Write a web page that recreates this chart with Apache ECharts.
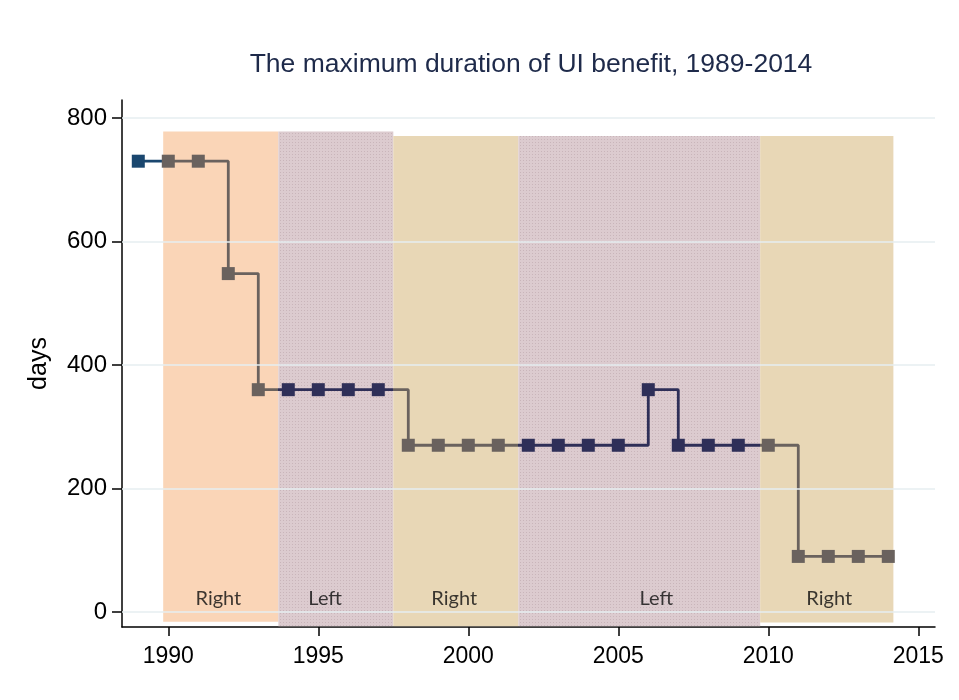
<!DOCTYPE html>
<html>
<head>
<meta charset="utf-8">
<script src="https://cdn.jsdelivr.net/npm/echarts@6/dist/echarts.min.js"></script>
<style>
html,body{margin:0;padding:0;background:#fff;}
#c{width:959px;height:700px;}
</style>
</head>
<body>
<div id="c"></div>
<script>
// ---- data ----
var years = [1989,1990,1991,1992,1993,1994,1995,1996,1997,1998,1999,2000,2001,2002,2003,2004,2005,2006,2007,2008,2009,2010,2011,2012,2013,2014];
var days  = [730,730,730,548,360,360,360,360,360,270,270,270,270,270,270,270,270,360,270,270,270,270,90,90,90,90];
var yTicks = [0,200,400,600,800];
var xTicks = [1990,1995,2000,2005,2010,2015];
var regionStart = [1989.83,1993.67,1997.5,2001.67,2009.73];
var regionEnd   = [1993.67,1997.5,2001.67,2009.73,2014.17];
var regionTop   = [778,778,771,771,771];
var regionBottom= [-16,-23,-23,-23,-17];
var regionLabel = ['Right','Left','Right','Left','Right'];
var labelX      = [1991.67,1995.23,1999.53,2006.27,2012.03];
var labelY      = 22;

// ---- styles ----
var NAVY = '#1a476f', GRAYM = '#6a625e', DARK = '#2e2f58';
function dotPattern(){
  var c = document.createElement('canvas'); c.width = 3; c.height = 3;
  var g = c.getContext('2d');
  g.fillStyle = '#dccbcf'; g.fillRect(0,0,3,3);
  g.fillStyle = '#c9b5ba'; g.fillRect(1,1,1,1);
  return c;
}
var pat = dotPattern();
var regionColors = ['#fad5b7', {image: pat, repeat: 'repeat'}, '#e8d7b6', {image: pat, repeat: 'repeat'}, '#e8d7b6'];
var lineColors = [GRAYM, DARK, GRAYM, DARK, GRAYM];

var pieces = [{lt: regionStart[0], color: NAVY}];
for (var i = 0; i < regionStart.length; i++) {
  var p = {gte: regionStart[i], color: lineColors[i]};
  if (i < regionStart.length - 1) p.lt = regionEnd[i];
  pieces.push(p);
}

var areaData = regionStart.map(function(s, i){
  return [{coord: [s, regionTop[i]], itemStyle: {color: regionColors[i], opacity: 1}}, {coord: [regionEnd[i], regionBottom[i]]}];
});

var lineData = years.map(function(y, i){ return [y, days[i]]; });
var labelData = regionLabel.map(function(t, i){ return {value: [labelX[i], labelY], label: {formatter: t}}; });

var chart = echarts.init(document.getElementById('c'), null, {renderer: 'canvas'});
chart.setOption({
  backgroundColor: '#ffffff',
  animation: false,
  title: {
    text: 'The maximum duration of UI benefit, 1989-2014',
    left: 526, top: 46, textAlign: 'center',
    textStyle: {fontFamily: 'Liberation Sans', fontSize: 26.5, fontWeight: 'normal', color: '#1e2a4a'}
  },
  grid: {left: 122, right: 24, top: 100, bottom: 73},
  xAxis: {
    type: 'value', min: 1988.457, max: 2015.557,
    axisLine: {show: true, onZero: false, lineStyle: {color: '#000', width: 1.5}},
    axisTick: {show: true, length: 9, lineStyle: {color: '#000', width: 1.5}, customValues: xTicks},
    axisLabel: {customValues: xTicks, formatter: function(v){ return String(v); }, fontFamily: 'Liberation Sans', fontSize: 23, color: '#000', margin: 18},
    splitLine: {show: false}
  },
  yAxis: {
    type: 'value', min: -24.3, max: 829.1,
    name: 'days', nameLocation: 'middle', nameGap: 70,
    nameTextStyle: {fontFamily: 'Liberation Sans', fontSize: 25, color: '#000'},
    axisLine: {show: true, onZero: false, lineStyle: {color: '#000', width: 1.5}},
    axisTick: {show: true, length: 10, lineStyle: {color: '#000', width: 1.5}, customValues: yTicks},
    axisLabel: {customValues: yTicks, fontFamily: 'Liberation Sans', fontSize: 24, color: '#000', margin: 15},
    splitLine: {show: false}
  },
  visualMap: {type: 'piecewise', show: false, dimension: 0, seriesIndex: 2, pieces: pieces},
  series: [
    {
      type: 'line', data: [], z: 1, silent: true,
      markLine: {
        silent: true, symbol: ['none','none'], label: {show: false},
        lineStyle: {color: '#e6eef0', width: 1.5, type: 'solid'},
        data: yTicks.map(function(v){ return {yAxis: v}; })
      }
    },
    {
      type: 'line', data: [], z: 2, silent: true,
      markArea: {silent: true, data: areaData}
    },
    {
      type: 'line', data: lineData, step: 'end', z: 3,
      symbol: 'rect', symbolSize: 13,
      lineStyle: {width: 2.8}
    },
    {
      type: 'scatter', data: labelData, z: 4, symbolSize: 0,
      label: {show: true, position: 'inside', fontFamily: 'Lato', fontSize: 20, color: '#0d0d0d'}
    }
  ]
});
</script>
</body>
</html>
